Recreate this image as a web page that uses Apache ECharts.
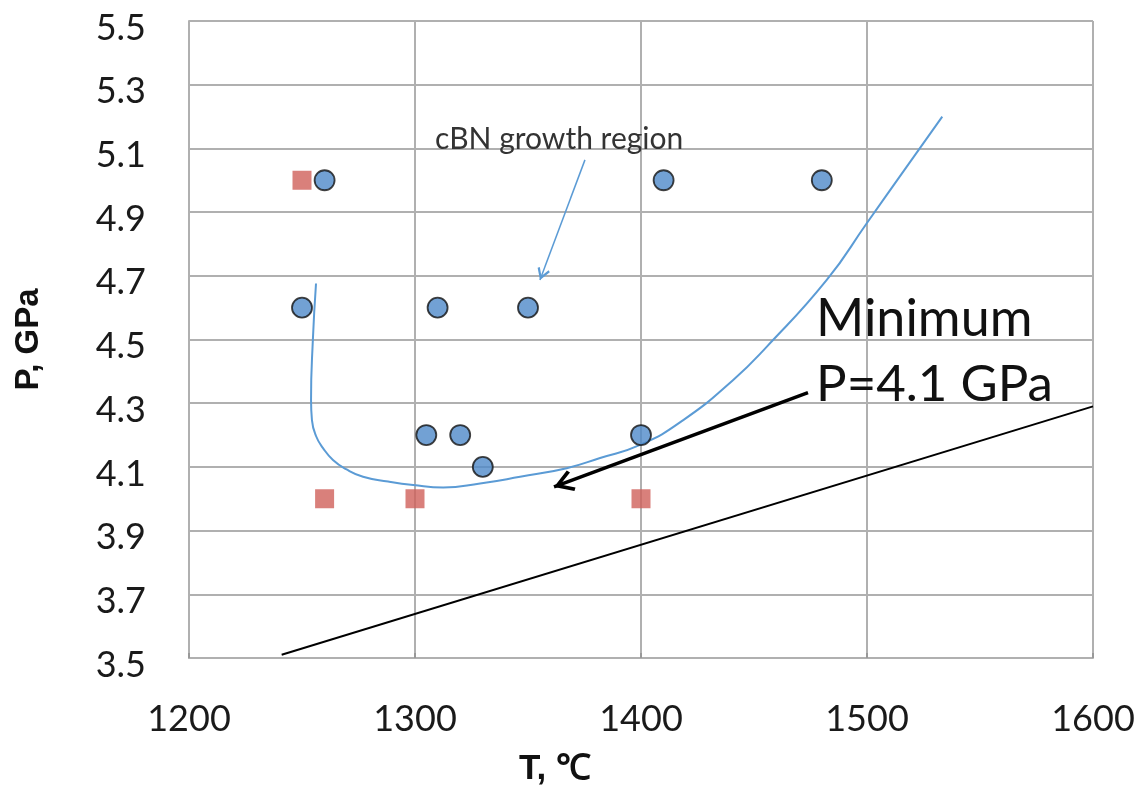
<!DOCTYPE html>
<html>
<head>
<meta charset="utf-8">
<script src="https://cdn.jsdelivr.net/npm/echarts@6/dist/echarts.min.js"></script>
<style>
  html, body { margin: 0; padding: 0; background: #ffffff; }
  #chart { width: 1140px; height: 787px; }
</style>
</head>
<body>
<div id="chart"></div>
<script>
// Experiments with cBN growth (red squares: no growth, blue circles: growth)
const noGrowthT = [1250, 1260, 1300, 1400];
const noGrowthP = [5.0, 4.0, 4.0, 4.0];

const growthT = [1260, 1410, 1480, 1250, 1310, 1350, 1305, 1320, 1330, 1400];
const growthP = [5.0, 5.0, 5.0, 4.6, 4.6, 4.6, 4.2, 4.2, 4.1, 4.2];

// Boundary of the cBN growth region (hand-traced curve)
const boundaryT = [1256.2, 1254.8, 1254.0, 1254.4, 1256.2, 1259.3, 1263.7, 1269.5, 1277.0, 1288.1,
                   1299.2, 1312.5, 1328.8, 1346.5, 1367.1, 1381.9, 1399.6, 1418.7, 1440.8, 1455.6,
                   1482.2, 1499.9, 1517.6, 1533.3];
const boundaryP = [4.676, 4.498, 4.310, 4.247, 4.197, 4.159, 4.122, 4.093, 4.069, 4.054,
                   4.043, 4.035, 4.048, 4.069, 4.096, 4.128, 4.169, 4.247, 4.373, 4.477,
                   4.687, 4.865, 5.043, 5.200];

// Equilibrium line
const equilT = [1241, 1600];
const equilP = [3.51, 4.29];

// Annotation arrows: [tail, tip]
const minArrow = [[1473.9, 4.333], [1361.5, 4.037]];
const regionArrow = [[1375.2, 5.064], [1355.3, 4.687]];

// Axis ticks
const xTicks = [1200, 1300, 1400, 1500, 1600];
const yTickLabels = ['3.5', '3.7', '3.9', '4.1', '4.3', '4.5', '4.7', '4.9', '5.1', '5.3', '5.5'];

const zip = (a, b) => a.map((v, i) => [v, b[i]]);

// open "V" arrowhead, tip at the top
const openHead = 'path://M50,0 L100,78 L86,88 L50,30 L14,88 L0,78 Z';

const chart = echarts.init(document.getElementById('chart'));

const labelFont = { fontFamily: 'Lato', fontSize: 36, color: '#1a1a1a' };
const gridColor = '#b0b0b0';

chart.setOption({
  animation: false,
  backgroundColor: '#ffffff',
  grid: { left: 189, right: 47, top: 21, bottom: 129, outerBoundsMode: 'none', containLabel: false },
  xAxis: {
    type: 'value',
    min: 1200, max: 1600, interval: 100,
    name: 'T, ℃',
    nameLocation: 'middle',
    nameGap: 94,
    nameTextStyle: {
      fontFamily: 'Liberation Sans', fontWeight: 'bold', fontSize: 35, color: '#111',
      padding: [0, 172, 0, 0]
    },
    axisLine: { show: true, lineStyle: { color: gridColor, width: 2 } },
    axisTick: { show: true, inside: true, length: 5, lineStyle: { color: '#999', width: 2 } },
    splitLine: { show: true, lineStyle: { color: gridColor, width: 2 } },
    axisLabel: Object.assign({ margin: 43, formatter: v => xTicks.includes(v) ? String(v) : '' }, labelFont)
  },
  yAxis: {
    type: 'value',
    min: 3.5, max: 5.5, interval: 0.1,
    name: 'P, GPa',
    nameLocation: 'middle',
    nameRotate: 90,
    nameGap: 144,
    nameTextStyle: {
      fontFamily: 'Liberation Sans', fontWeight: 'bold', fontSize: 33, color: '#111'
    },
    axisLine: { show: true, lineStyle: { color: gridColor, width: 2 } },
    axisTick: { show: false },
    splitLine: { show: true, lineStyle: { color: [gridColor, 'rgba(0,0,0,0)'], width: 2 } },
    axisLabel: Object.assign({
      margin: 43,
      verticalAlign: 'top',
      lineHeight: 14,
      formatter: v => {
        const s = (Math.round(v * 10) / 10).toFixed(1);
        return yTickLabels.includes(s) ? s : '';
      }
    }, labelFont)
  },
  graphic: [
    {
      type: 'text', left: 816, top: 293, z: 10,
      style: { text: 'Minimum', fontFamily: 'Lato', fontSize: 52, fill: '#111' }
    },
    {
      type: 'text', left: 816, top: 359, z: 10,
      style: { text: 'P=4.1 GPa', fontFamily: 'Lato', fontSize: 51, fill: '#111' }
    },
    {
      type: 'text', left: 435, top: 124, z: 10,
      style: { text: 'cBN growth region', fontFamily: 'Lato', fontSize: 30, fill: '#333' }
    }
  ],
  series: [
    {
      name: 'equilibrium',
      type: 'line',
      data: zip(equilT, equilP),
      showSymbol: false,
      lineStyle: { color: '#000', width: 2 },
      z: 3,
      silent: true
    },
    {
      name: 'boundary',
      type: 'line',
      data: zip(boundaryT, boundaryP),
      smooth: 0.5,
      showSymbol: false,
      lineStyle: { color: '#5b9bd5', width: 2 },
      z: 3,
      silent: true,
      markLine: {
        silent: true,
        animation: false,
        label: { show: false },
        data: [
          [
            { coord: minArrow[0], symbol: 'none' },
            {
              coord: minArrow[1], symbol: openHead, symbolSize: [22, 20], symbolOffset: [0, 10],
              lineStyle: { color: '#000', width: 3.5, type: 'solid' }
            }
          ],
          [
            { coord: regionArrow[0], symbol: 'none' },
            {
              coord: regionArrow[1], symbol: openHead, symbolSize: [13, 12], symbolOffset: [0, 6],
              lineStyle: { color: '#5b9bd5', width: 1.5, type: 'solid' }
            }
          ]
        ]
      }
    },
    {
      name: 'no growth',
      type: 'scatter',
      data: zip(noGrowthT, noGrowthP),
      symbol: 'rect',
      symbolSize: 19,
      itemStyle: { color: '#d0605a' },
      z: 5
    },
    {
      name: 'growth',
      type: 'scatter',
      data: zip(growthT, growthP),
      symbol: 'circle',
      symbolSize: 20,
      itemStyle: { color: '#4f89c9', borderColor: '#111', borderWidth: 1.8 },
      z: 6
    }
  ]
});
</script>
</body>
</html>
